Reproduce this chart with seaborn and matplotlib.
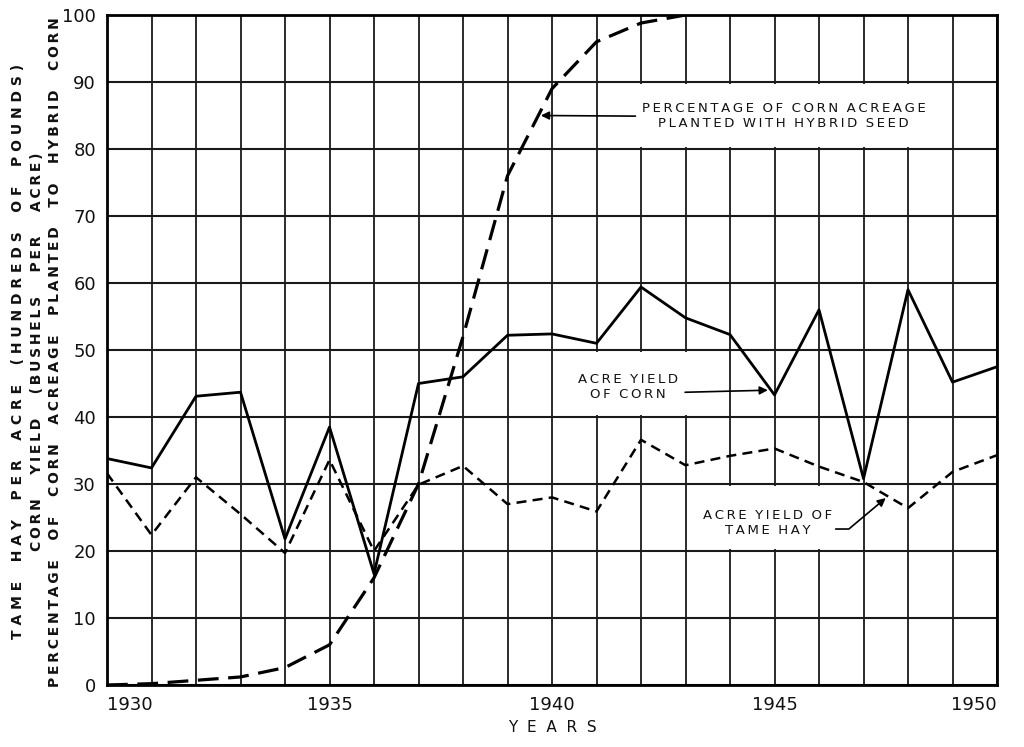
import matplotlib
matplotlib.use("Agg")
import matplotlib.pyplot as plt
import seaborn as sns
import pandas as pd
from matplotlib.patches import Rectangle

# ---- data ----
years = list(range(1930, 1951))
corn_yield = [33.8, 32.4, 43.1, 43.7, 21.8, 38.5, 16.6, 45.0, 46.0, 52.2, 52.4,
              51.0, 59.4, 54.8, 52.3, 43.3, 56.0, 30.8, 59.0, 45.2, 47.5]
hay_yield = [31.6, 22.4, 31.0, 25.5, 19.7, 33.6, 20.0, 29.9, 32.7, 27.0, 28.0,
             25.9, 36.6, 32.8, 34.2, 35.3, 32.6, 30.3, 26.4, 31.8, 34.3]
hybrid_years = list(range(1930, 1944))
hybrid_pct = [0.0, 0.2, 0.7, 1.2, 2.6, 6.0, 16.0, 30.0, 52.0, 76.0, 89.0,
              96.0, 98.8, 100.0]
x_ticks = [1930, 1935, 1940, 1945, 1950]
y_ticks = [0, 10, 20, 30, 40, 50, 60, 70, 80, 90, 100]

df_corn = pd.DataFrame({"year": years, "value": corn_yield})
df_hay = pd.DataFrame({"year": years, "value": hay_yield})
df_hyb = pd.DataFrame({"year": hybrid_years, "value": hybrid_pct})

sns.set_theme(style="white")
plt.rcParams["font.family"] = ["DejaVu Sans"]

TS = "\u2009"  # thin space used for letter tracking


def track(text, word_gap="   ", letter_gap=TS):
    return word_gap.join(letter_gap.join(w) for w in text.split(" "))


fig = plt.figure(figsize=(10.24, 7.47), dpi=100)
ax = fig.add_axes([107 / 1024, 62 / 747, 890 / 1024, 670 / 747])

# grid
for yr in years:
    ax.axvline(yr, color="#1a1a1a", lw=1.3, zorder=0.5)
for v in y_ticks:
    ax.axhline(v, color="#1a1a1a", lw=1.5, zorder=0.5)

# white label boxes covering the grid
for (x0, x1, y0, y1) in [(1941, 1949, 80, 90), (1940, 1944, 40, 50), (1943, 1947, 20, 30)]:
    ax.add_patch(Rectangle((x0 + 0.03, y0 + 0.25), x1 - x0 - 0.06, y1 - y0 - 0.5,
                           facecolor="white", edgecolor="none", zorder=0.8))

sns.lineplot(data=df_corn, x="year", y="value", ax=ax, color="black", lw=2.0, zorder=3)
sns.lineplot(data=df_hay, x="year", y="value", ax=ax, color="black", lw=1.8, zorder=3)
ax.lines[-1].set_dashes([4, 2.5])
sns.lineplot(data=df_hyb, x="year", y="value", ax=ax, color="black", lw=2.3, zorder=3)
ax.lines[-1].set_dashes([6.5, 3])

ax.set_xlim(1930, 1950)
ax.set_ylim(0, 100)
ax.set_xticks(x_ticks)
ax.set_yticks(y_ticks)
ax.set_xticklabels([str(t) for t in x_ticks], fontsize=13)
ax.set_yticklabels([str(t) for t in y_ticks], fontsize=13)
xl = ax.get_xticklabels()
xl[0].set_ha("left")
xl[-1].set_ha("right")
ax.tick_params(axis="both", length=0, pad=8, colors="#111111")
ax.set_xlabel("Y  E  A  R  S", fontsize=11, color="#111111", labelpad=4)
ax.set_ylabel("")
for s in ax.spines.values():
    s.set_color("black")
    s.set_linewidth(2)

# y-axis label lines
ylab_kw = dict(rotation=90, fontsize=10, fontweight="bold", color="#111111",
               ha="center", va="center")
fig.text(18 / 1024, 0.529, track("TAME HAY PER ACRE (HUNDREDS OF POUNDS)", "    ", " "), **ylab_kw)
fig.text(37 / 1024, 0.529, track("CORN YIELD (BUSHELS PER ACRE)", "     "), **ylab_kw)
fig.text(55 / 1024, 0.529, track("PERCENTAGE OF CORN ACREAGE PLANTED TO HYBRID CORN", "    "), **ylab_kw)

# annotations
ann_kw = dict(fontsize=9.5, color="#111111", ha="center", va="center", linespacing=1.2)
ax.annotate(track("PERCENTAGE OF CORN ACREAGE", "  ") + "\n" + track("PLANTED WITH HYBRID SEED", "  "),
            xy=(1939.75, 85), xytext=(1945.2, 84.9),
            arrowprops=dict(arrowstyle="-|>", color="black", lw=1.2, mutation_scale=12,
                            relpos=(0, 0.5), shrinkA=2, shrinkB=0),
            **ann_kw)
ax.annotate(track("ACRE YIELD", "  ") + "\n" + track("OF CORN", "  "),
            xy=(1944.85, 44.0), xytext=(1941.7, 44.5),
            arrowprops=dict(arrowstyle="-|>", color="black", lw=1.2, mutation_scale=12,
                            relpos=(1, 0.3), shrinkA=3, shrinkB=0),
            **ann_kw)
ax.annotate(track("ACRE YIELD OF", "  ") + "\n" + track("TAME HAY", "  "),
            xy=(1947.5, 27.9), xytext=(1944.85, 24.2),
            arrowprops=dict(arrowstyle="-|>", color="black", lw=1.2, mutation_scale=12,
                            relpos=(1, 0.28), shrinkA=0, shrinkB=0,
                            connectionstyle="angle,angleA=0,angleB=40,rad=0"),
            **ann_kw)

fig.savefig("out.png", dpi=100)
